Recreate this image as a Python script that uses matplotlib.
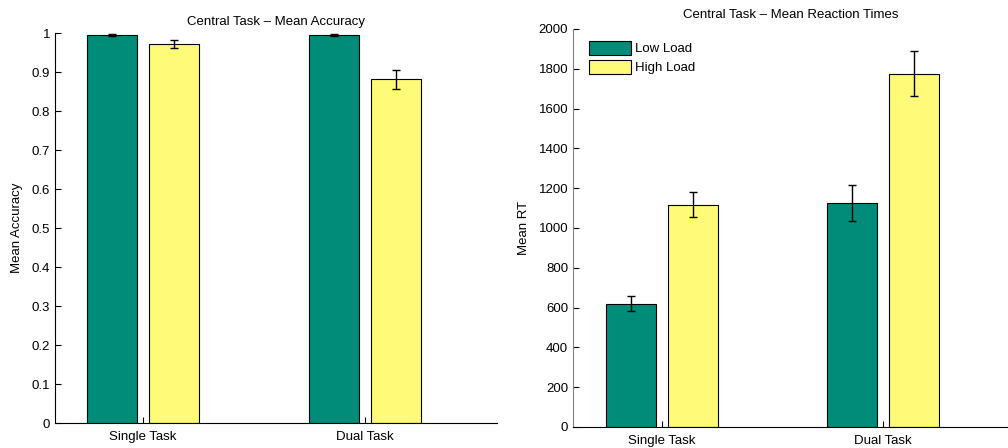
import matplotlib.pyplot as plt
import numpy as np

plt.rcParams["font.family"] = ["Liberation Sans", "DejaVu Sans"]

# data
conditions = ["Single Task", "Dual Task"]
loads = ["Low Load", "High Load"]
acc_low = [0.995, 0.995]
acc_low_err = [0.003, 0.002]
acc_high = [0.972, 0.881]
acc_high_err = [0.010, 0.025]
rt_low = [620, 1127]
rt_low_err = [36, 90]
rt_high = [1118, 1775]
rt_high_err = [62, 112]

green = "#008c78"
yellow = "#fffa78"

fig = plt.figure(figsize=(10.08, 4.48), dpi=100)
ax1 = fig.add_axes([0.0546, 0.0558, 0.4384, 0.8705])
ax2 = fig.add_axes([0.5685, 0.0469, 0.4315, 0.8884])

x = np.arange(1, len(conditions) + 1)
offset = 0.14
width = 0.225


def draw(ax, low, low_err, high, high_err):
    ax.bar(x - offset, low, width, color=green, edgecolor="black", linewidth=0.8,
           label=loads[0])
    ax.bar(x + offset, high, width, color=yellow, edgecolor="black", linewidth=0.8,
           label=loads[1])
    ax.errorbar(x - offset, low, yerr=low_err, fmt="none", ecolor="black",
                elinewidth=1, capsize=3, capthick=1)
    ax.errorbar(x + offset, high, yerr=high_err, fmt="none", ecolor="black",
                elinewidth=1, capsize=3, capthick=1)
    ax.set_xticks(x)
    ax.set_xticklabels(conditions)
    ax.tick_params(direction="in", length=4, labelsize=9.5, width=0.8)
    ax.tick_params(axis="x", pad=6)
    ax.spines["top"].set_visible(False)
    ax.spines["right"].set_visible(False)


# 正答率
draw(ax1, acc_low, acc_low_err, acc_high, acc_high_err)
ax1.set_xlim(0.604, 2.595)
ax1.set_ylim(0, 1)
ax1.set_yticks(np.arange(0, 1.01, 0.1))
ax1.set_yticklabels(["0", "0.1", "0.2", "0.3", "0.4", "0.5", "0.6", "0.7",
                     "0.8", "0.9", "1"])
ax1.set_ylabel("Mean Accuracy", fontsize=9.5, labelpad=6)
ax1.set_title("Central Task \u2013 Mean Accuracy", fontsize=9.5, pad=6)

# 反応時間
draw(ax2, rt_low, rt_low_err, rt_high, rt_high_err)
ax2.set_xlim(0.597, 2.566)
ax2.set_ylim(0, 2000)
ax2.set_yticks(np.arange(0, 2001, 200))
ax2.set_ylabel("Mean RT", fontsize=9.5, labelpad=6)
ax2.set_title("Central Task \u2013 Mean Reaction Times", fontsize=9.5, pad=8)
ax2.spines["left"].set_color("#808080")
ax2.legend(loc="upper left", frameon=False, fontsize=9.5, handlelength=3.2,
           handleheight=1.25, labelspacing=0.35, handletextpad=0.3,
           bbox_to_anchor=(0.01, 1.0))

fig.savefig("out.png", dpi=100)
